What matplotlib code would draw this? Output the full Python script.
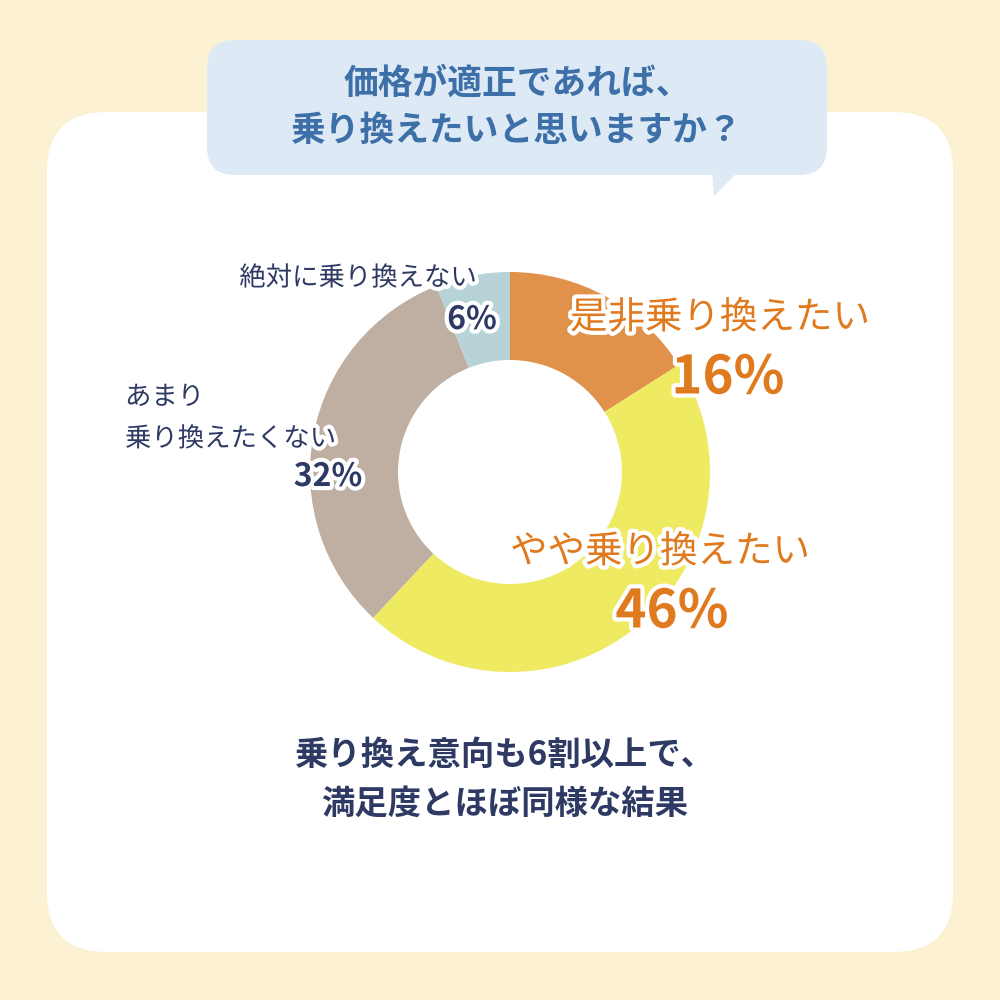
import matplotlib.pyplot as plt
import matplotlib.patheffects as pe
from matplotlib.patches import FancyBboxPatch, Polygon

plt.rcParams['font.family'] = ['Noto Sans CJK JP', 'DejaVu Sans']

labels = ["是非乗り換えたい", "やや乗り換えたい", "あまり\n乗り換えたくない", "絶対に乗り換えない"]
values = [16, 46, 32, 6]
colors = ["#E0914A", "#EEEA62", "#BFAFA3", "#B7D3D8"]

fig = plt.figure(figsize=(10, 10), dpi=100, facecolor="#FDF1D3")
bg = fig.add_axes([0, 0, 1, 1])
bg.set_xlim(0, 1000)
bg.set_ylim(1000, 0)
bg.axis("off")

bg.add_patch(FancyBboxPatch((47, 112), 906, 840, boxstyle="round,pad=0,rounding_size=60",
                            fc="white", ec="none"))
bg.add_patch(FancyBboxPatch((207, 40), 620, 135, boxstyle="round,pad=0,rounding_size=28",
                            fc="#DDEAF5", ec="none"))
bg.add_patch(Polygon([[712, 170], [740, 170], [714, 196]], fc="#DDEAF5", ec="none"))

# donut: centre (510, 472) px, outer radius 200 px
ax = fig.add_axes([0.31, 0.328, 0.4, 0.4])
ax.pie(values, colors=colors, startangle=90, counterclock=False, radius=1,
       wedgeprops=dict(width=0.44, edgecolor="none"))
ax.set_xlim(-1, 1)
ax.set_ylim(-1, 1)
ax.set_aspect("equal")

# text overlay on top of the donut
top = fig.add_axes([0, 0, 1, 1])
top.set_xlim(0, 1000)
top.set_ylim(1000, 0)
top.axis("off")

top.text(517, 107, "価格が適正であれば、\n乗り換えたいと思いますか？", ha="center", va="center",
         fontsize=25, fontweight="bold", color="#3D6FA8", linespacing=1.45)

stroke = [pe.withStroke(linewidth=6, foreground="white")]
orange = "#E07A1F"
navy = "#2E3A63"
top.text(720, 318, labels[0], ha="center", va="center", fontsize=27, color=orange, path_effects=stroke)
top.text(728, 378, f"{values[0]}%", ha="center", va="center", fontsize=38, fontweight="bold",
         color=orange, path_effects=stroke)
top.text(660, 552, labels[1], ha="center", va="center", fontsize=27, color=orange, path_effects=stroke)
top.text(672, 612, f"{values[1]}%", ha="center", va="center", fontsize=38, fontweight="bold",
         color=orange, path_effects=stroke)
top.text(125, 418, labels[2], ha="left", va="center", fontsize=19, color=navy, linespacing=1.7,
         path_effects=stroke)
top.text(328, 477, f"{values[2]}%", ha="center", va="center", fontsize=23, fontweight="bold",
         color=navy, path_effects=stroke)
top.text(358, 278, labels[3], ha="center", va="center", fontsize=19, color=navy, path_effects=stroke)
top.text(472, 320, f"{values[3]}%", ha="center", va="center", fontsize=23, fontweight="bold",
         color=navy, path_effects=stroke)

top.text(505, 780, "乗り換え意向も6割以上で、\n満足度とほぼ同様な結果", ha="center", va="center",
         fontsize=24, fontweight="bold", color=navy, linespacing=1.6)

fig.savefig("out.png", dpi=100, facecolor=fig.get_facecolor())
